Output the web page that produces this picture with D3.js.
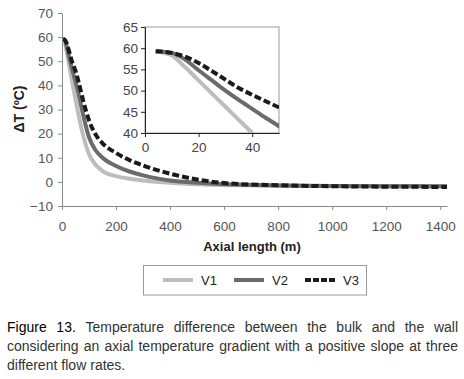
<!DOCTYPE html>
<html>
<head>
<meta charset="utf-8">
<script src="https://cdn.jsdelivr.net/npm/d3@7"></script>
<style>
  body { margin: 0; background: #fff; }
  text { font-family: "Liberation Sans", Arial, sans-serif; }
</style>
</head>
<body>
<div id="chart"></div>
<script>
// data
var axialLength = [4, 10, 15, 20, 25, 30, 35, 40, 45, 50, 60, 80, 100, 125, 150, 200, 250, 300, 400, 500, 600, 800, 1000, 1200, 1425];
var v1 = [59.3, 58.3, 55.5, 52.4, 49.3, 46.2, 43.1, 40.0, 37.0, 34.2, 28.5, 18.5, 11.5, 7.0, 4.5, 2.4, 1.3, 0.6, -0.4, -1.0, -1.3, -1.6, -1.7, -1.7, -1.7];
var v2 = [59.3, 58.9, 57.3, 54.8, 52.4, 50.0, 47.8, 45.7, 43.6, 41.6, 37.0, 27.0, 18.5, 13.0, 10.0, 6.6, 4.3, 2.7, 0.6, -0.4, -1.0, -1.5, -1.7, -1.8, -1.8];
var v3 = [59.3, 58.9, 58.0, 56.5, 54.6, 52.6, 50.6, 49.0, 47.5, 46.0, 42.0, 33.0, 25.5, 19.5, 16.0, 12.0, 9.0, 6.8, 3.4, 1.0, -0.5, -1.4, -1.8, -2.0, -2.1];
var seriesNames = ["V1", "V2", "V3"];
var xTicks = [0, 200, 400, 600, 800, 1000, 1200, 1400];
var yTicks = [-10, 0, 10, 20, 30, 40, 50, 60, 70];
var insetXTicks = [0, 20, 40];
var insetYTicks = [40, 45, 50, 55, 60, 65];
var captionLines = [
  "Figure 13. Temperature difference between the bulk and the wall",
  "considering an axial temperature gradient with a positive slope at three",
  "different flow rates."
];

var W = 464, H = 379;
var svg = d3.select("#chart").append("svg")
    .attr("width", W).attr("height", H);
svg.append("rect").attr("width", W).attr("height", H).attr("fill", "#fff");

var styles = [
  {color: "#bdbdbd", dash: null},
  {color: "#6b6b6b", dash: null},
  {color: "#1a1a1a", dash: "7,3"}
];
var series = [v1, v2, v3].map(function(vals, i) {
  return {name: seriesNames[i], style: styles[i],
    values: vals.map(function(v, j) { return {x: axialLength[j], y: v}; })};
});

// main chart
var x = d3.scaleLinear().domain([0, 1425]).range([62, 447]);
var y = d3.scaleLinear().domain([-10, 70]).range([206, 13]);

var yAxis = svg.append("g")
    .attr("transform", "translate(62,0)")
    .call(d3.axisLeft(y).tickValues(yTicks).tickSize(4).tickSizeOuter(0).tickPadding(5));
var xAxis = svg.append("g")
    .attr("transform", "translate(0,206)")
    .call(d3.axisBottom(x).tickValues(xTicks).tickFormat(d3.format("d"))
      .tickSize(4).tickSizeOuter(0).tickPadding(11));
[xAxis, yAxis].forEach(function(g) {
  g.select(".domain").attr("stroke", "#8a8a8a");
  g.selectAll(".tick line").attr("stroke", "#8a8a8a");
  g.selectAll("text").attr("fill", "#555").attr("font-size", 13.5)
    .attr("font-family", "Liberation Sans, Arial, sans-serif");
});

var line = d3.line()
    .x(function(d) { return x(d.x); })
    .y(function(d) { return y(d.y); })
    .curve(d3.curveMonotoneX);

svg.selectAll(".mainline")
  .data(series)
  .enter().append("path")
    .attr("class", "mainline")
    .attr("fill", "none")
    .attr("stroke", function(d) { return d.style.color; })
    .attr("stroke-width", 4)
    .attr("stroke-dasharray", function(d) { return d.style.dash; })
    .attr("d", function(d) { return line(d.values); });

svg.append("text")
    .attr("transform", "translate(20,109) rotate(-90)")
    .attr("text-anchor", "middle")
    .attr("dominant-baseline", "middle")
    .attr("font-weight", "bold")
    .attr("font-size", 14)
    .attr("fill", "#222")
    .text("ΔT (ºC)");

svg.append("text")
    .attr("x", 252).attr("y", 251)
    .attr("text-anchor", "middle")
    .attr("font-weight", "bold")
    .attr("font-size", 13)
    .attr("fill", "#222")
    .text("Axial length (m)");

// inset
var ix = d3.scaleLinear().domain([0, 50]).range([145, 279]);
var iy = d3.scaleLinear().domain([40, 65]).range([133, 27]);

svg.append("rect")
    .attr("x", 145).attr("y", 27).attr("width", 134).attr("height", 106)
    .attr("fill", "#fff").attr("stroke", "#9a9a9a");

svg.append("clipPath").attr("id", "insetclip")
  .append("rect").attr("x", 145).attr("y", 27).attr("width", 134).attr("height", 106);

var iline = d3.line()
    .x(function(d) { return ix(d.x); })
    .y(function(d) { return iy(d.y); })
    .curve(d3.curveMonotoneX);

svg.append("g").attr("clip-path", "url(#insetclip)")
  .selectAll("path")
  .data(series)
  .enter().append("path")
    .attr("fill", "none")
    .attr("stroke", function(d) { return d.style.color; })
    .attr("stroke-width", 4)
    .attr("stroke-dasharray", function(d) { return d.style.dash; })
    .attr("d", function(d) { return iline(d.values.filter(function(p) { return p.x <= 80; })); });

var iyAxis = svg.append("g")
    .attr("transform", "translate(145,0)")
    .call(d3.axisLeft(iy).tickValues(insetYTicks).tickSize(4).tickSizeOuter(0).tickPadding(3));
var ixAxis = svg.append("g")
    .attr("transform", "translate(0,133)")
    .call(d3.axisBottom(ix).tickValues(insetXTicks).tickSize(4).tickSizeOuter(0).tickPadding(5));
[ixAxis, iyAxis].forEach(function(g) {
  g.select(".domain").attr("stroke", "#222");
  g.selectAll(".tick line").attr("stroke", "#222");
  g.selectAll("text").attr("fill", "#444").attr("font-size", 13.5)
    .attr("font-family", "Liberation Sans, Arial, sans-serif");
});

// legend
svg.append("rect")
    .attr("x", 143.5).attr("y", 265.5).attr("width", 223).attr("height", 29.5)
    .attr("fill", "none").attr("stroke", "#9a9a9a");
var legend = svg.selectAll(".legend")
  .data(series)
  .enter().append("g")
    .attr("class", "legend")
    .attr("transform", function(d, i) { return "translate(" + (163 + i * 71) + ",280)"; });
legend.append("line")
    .attr("x1", 0).attr("x2", 30)
    .attr("stroke", function(d) { return d.style.color; })
    .attr("stroke-width", 4)
    .attr("stroke-dasharray", function(d) { return d.style.dash ? "6,2" : null; });
legend.append("text")
    .attr("x", 38).attr("y", 0)
    .attr("dominant-baseline", "central")
    .attr("font-size", 13)
    .attr("fill", "#222")
    .text(function(d) { return d.name; });

// caption, justified word by word
var capLeft = 7, capRight = 458, capY = [332, 351, 370];
captionLines.forEach(function(ln, li) {
  var words = ln.split(" ");
  var g = svg.append("g");
  var nodes = words.map(function(w, wi) {
    var t = g.append("text")
      .attr("y", capY[li])
      .attr("font-size", 14)
      .attr("fill", "#333")
      .text(w);
    if (li === 0 && wi < 2) t.attr("fill", "#000");
    return t;
  });
  var widths = nodes.map(function(n) { return n.node().getComputedTextLength(); });
  var total = d3.sum(widths);
  var gap = li < captionLines.length - 1 ? (capRight - capLeft - total) / (words.length - 1) : 4;
  var cx = capLeft;
  nodes.forEach(function(n, i) { n.attr("x", cx); cx += widths[i] + gap; });
});
</script>
</body>
</html>
